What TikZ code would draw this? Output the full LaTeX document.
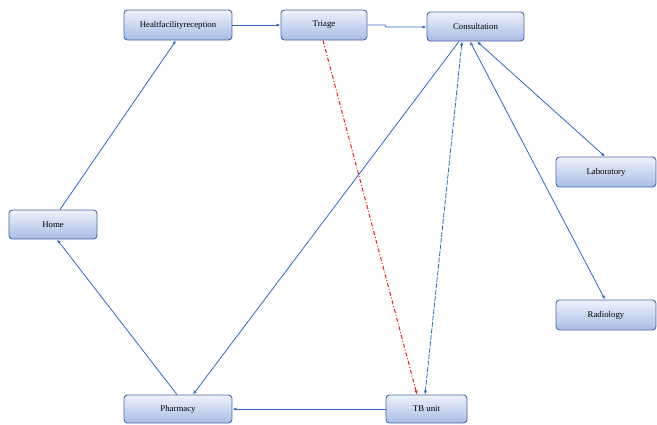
\documentclass[tikz,border=0pt]{standalone}
\usepackage{fontspec}
\setmainfont{Liberation Serif}
\usetikzlibrary{arrows.meta,calc}
\definecolor{boxline}{HTML}{4A68A8}
\definecolor{boxtop}{HTML}{EEF2FB}
\definecolor{boxbot}{HTML}{A8BCE4}
\definecolor{linkblue}{HTML}{2F66C4}
\definecolor{linkred}{HTML}{EE1C1C}
\tikzset{
  box/.style={draw=boxline, line width=0.9pt, rounded corners=3.5pt,
    top color=boxtop, bottom color=boxbot, inner sep=0pt,
    font=\fontsize{8.8}{10}\selectfont, text=black},
  link/.style={draw=linkblue, line width=0.8pt, -{Latex[length=4pt,width=3.2pt]}},
  biliink/.style={link, {Latex[length=4pt,width=3.2pt]}-{Latex[length=4pt,width=3.2pt]}},
  redlink/.style={draw=linkred, line width=1pt, dash pattern=on 4pt off 2pt on 1pt off 2pt, -{Latex[length=4pt,width=3.2pt]}},
  dashlink/.style={biliink, dash pattern=on 5pt off 1.5pt}
}
\begin{document}
\begin{tikzpicture}[x=1bp,y=-1bp]
\useasboundingbox (0,0) rectangle (657,424);
\node[box, minimum width=108bp, minimum height=30bp] (rec) at (178,25) {Healtfacilityreception};
\node[box, minimum width=86bp, minimum height=30bp] (tri) at (324,25) {Triage};
\node[box, minimum width=97bp, minimum height=29bp] (con) at (475.5,26.5) {Consultation};
\node[box, minimum width=88bp, minimum height=29bp] (home) at (53,224.5) {Home};
\node[box, minimum width=100bp, minimum height=30bp] (lab) at (606,172) {Laboratory};
\node[box, minimum width=100bp, minimum height=30bp] (rad) at (606,315) {Radiology};
\node[box, minimum width=108bp, minimum height=28bp] (pha) at (178,409) {Pharmacy};
\node[box, minimum width=81bp, minimum height=28bp] (tb) at (426.5,409) {TB unit};
\coordinate (step1) at (385,25);
\coordinate (step2) at (386,27);
\draw[link] ($(home.north)+(7,0)$) -- ($(rec.south)+(-2,0)$);
\draw[link] (rec.east) -- (tri.west);
\draw[link] (tri.east) -- (step1) -- (step2) -- (con.west |- step2);
\draw[redlink] ($(tri.south)+(-1,0)$) -- ($(tb.north)+(-9.5,0)$);
\draw[dashlink] ($(con.south)+(-13.5,0)$) -- ($(tb.north)+(-1.5,0)$);
\draw[link] ($(con.south)+(-16.5,0)$) -- ($(pha.north)+(15,0)$);
\draw[biliink] ($(con.south)+(-5.5,0)$) -- ($(rad.north)+(-1,0)$);
\draw[biliink] ($(con.south)+(1.5,0)$) -- ($(lab.north)+(-1,0)$);
\draw[link] (tb.west) -- (pha.east);
\draw[link] ($(pha.north)+(-1,0)$) -- ($(home.south)+(4,0)$);
\end{tikzpicture}
\end{document}
